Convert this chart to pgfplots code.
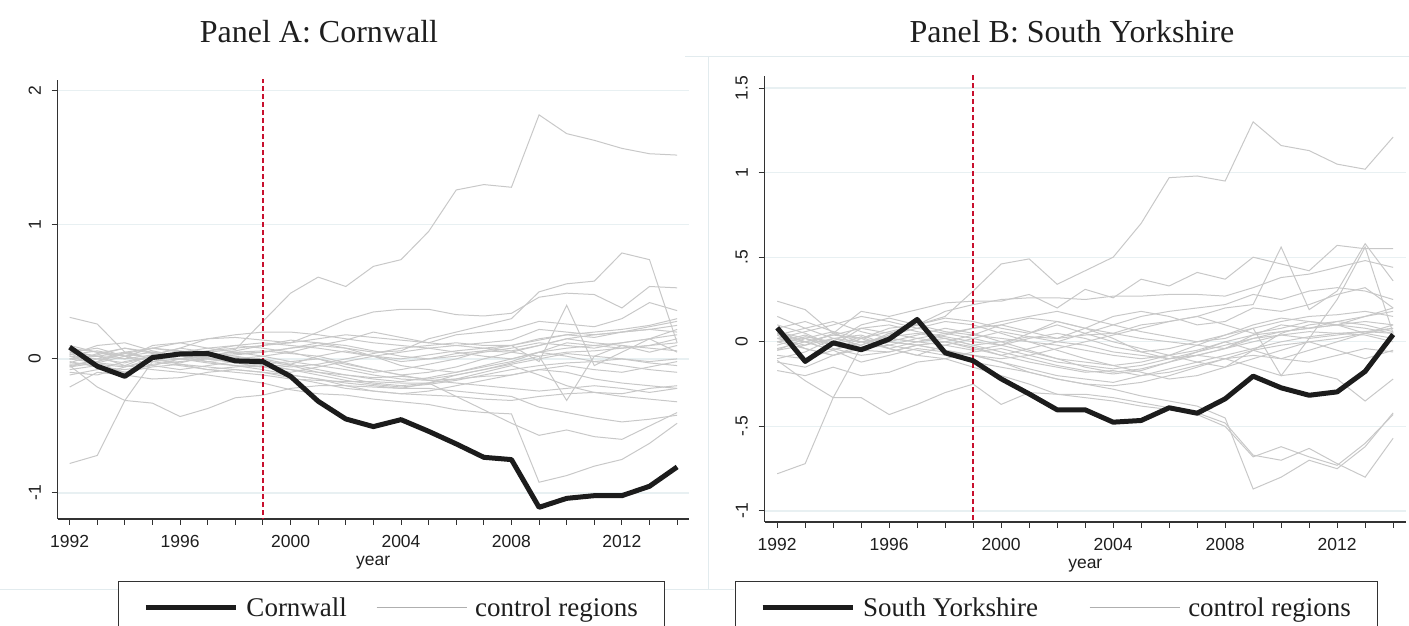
\documentclass[border=0pt]{standalone}
\usepackage{fontspec}
\setmainfont{Liberation Serif}
\newfontfamily\sansf{Liberation Sans}
\usepackage{pgfplots}
\usepackage{pgfplotstable}
\pgfplotsset{compat=1.18}
\definecolor{ctrl}{RGB}{200,200,200}
\definecolor{blk}{RGB}{28,28,28}
\definecolor{redc}{RGB}{200,16,46}
\definecolor{gridc}{RGB}{232,240,242}
\definecolor{framec}{RGB}{226,235,238}
\definecolor{axc}{RGB}{50,50,50}
\definecolor{txtc}{RGB}{30,30,30}
\definecolor{legg}{RGB}{175,175,175}
\newcommand\tickfont{\sansf\fontsize{17.5}{20}\selectfont}
\newcommand\titlefont{\fontsize{32}{38}\selectfont}
\newcommand\legfont{\fontsize{27}{32}\selectfont}

\pgfplotstableread[header=has colnames]{
name 1992 1993 1994 1995 1996 1997 1998 1999 2000 2001 2002 2003 2004 2005 2006 2007 2008 2009 2010 2011 2012 2013 2014
A1 0.05 0.02 -0.05 0.03 0.08 0.05 0.07 0.28 0.49 0.61 0.54 0.69 0.74 0.95 1.26 1.30 1.28 1.82 1.68 1.63 1.57 1.53 1.52
A2 -0.05 -0.02 0.04 0.00 -0.03 0.02 0.06 0.10 0.14 0.12 0.08 0.05 0.06 0.15 0.20 0.25 0.30 0.50 0.56 0.58 0.79 0.74 0.12
A3 0.03 0.06 0.02 0.08 0.12 0.15 0.16 0.14 0.12 0.20 0.29 0.35 0.37 0.37 0.33 0.32 0.34 0.46 0.49 0.48 0.38 0.54 0.53
A4 -0.06 -0.03 0.02 0.05 0.02 0.00 0.03 0.05 0.08 0.10 0.14 0.20 0.16 0.12 0.18 0.20 0.22 0.28 0.26 0.24 0.30 0.42 0.36
A5 0.02 -0.04 -0.06 -0.02 0.03 0.01 -0.02 -0.04 -0.06 -0.04 0.00 0.04 0.08 0.10 0.12 0.10 0.10 -0.02 0.40 -0.05 0.05 0.15 0.22
A6 -0.03 0.04 0.08 0.04 0.00 -0.03 -0.05 -0.06 -0.04 0.02 0.06 0.02 -0.02 0.00 0.04 0.06 0.05 0.02 -0.31 0.02 0.10 0.05 0.10
A7 0.00 -0.03 -0.05 -0.08 -0.10 -0.12 -0.15 -0.18 -0.23 -0.26 -0.27 -0.30 -0.32 -0.34 -0.38 -0.40 -0.41 -0.92 -0.87 -0.80 -0.75 -0.63 -0.48
A8 -0.78 -0.72 -0.31 -0.02 -0.05 -0.08 -0.10 -0.12 -0.15 -0.16 -0.17 -0.17 -0.18 -0.18 -0.28 -0.38 -0.48 -0.57 -0.53 -0.58 -0.60 -0.50 -0.40
A9 -0.05 -0.21 -0.31 -0.33 -0.43 -0.37 -0.29 -0.27 -0.22 -0.20 -0.20 -0.21 -0.22 -0.22 -0.24 -0.26 -0.28 -0.36 -0.40 -0.44 -0.47 -0.45 -0.42
A10 0.31 0.26 0.05 0.00 0.05 0.08 0.10 0.08 0.05 0.00 -0.06 -0.10 -0.08 -0.04 0.00 0.06 0.10 0.14 0.18 0.16 0.20 0.24 0.28
A11 -0.21 -0.10 -0.12 -0.15 -0.14 -0.10 -0.08 -0.10 -0.12 -0.15 -0.20 -0.24 -0.26 -0.27 -0.28 -0.30 -0.31 -0.28 -0.26 -0.25 -0.26 -0.22 -0.20
C1 0.02 0.00 -0.03 0.02 0.04 0.03 0.01 0.00 -0.04 -0.08 -0.12 -0.15 -0.17 -0.14 -0.10 -0.05 0.00 0.05 0.08 0.10 0.12 0.15 0.18
C2 -0.04 -0.02 0.05 0.08 0.06 0.04 0.02 -0.01 -0.05 -0.10 -0.14 -0.18 -0.20 -0.18 -0.12 -0.08 -0.03 0.02 0.05 0.06 0.08 0.10 0.12
C3 0.05 0.08 0.02 -0.02 0.00 0.03 0.05 0.06 0.04 0.02 -0.03 -0.08 -0.12 -0.10 -0.06 0.00 0.05 0.10 0.15 0.18 0.20 0.22 0.25
C4 -0.08 -0.05 -0.10 -0.04 -0.02 0.00 -0.02 -0.04 -0.08 -0.12 -0.16 -0.19 -0.21 -0.19 -0.16 -0.12 -0.08 -0.05 -0.03 -0.02 0.00 -0.03 -0.05
C5 0.00 0.03 0.08 0.05 0.02 0.06 0.10 0.12 0.10 0.08 0.05 0.02 0.00 0.03 0.06 0.08 0.10 0.15 0.18 0.20 0.22 0.25 0.30
C6 0.08 0.05 0.00 0.10 0.12 0.08 0.05 0.02 -0.02 -0.05 -0.08 -0.12 -0.15 -0.16 -0.15 -0.13 -0.12 -0.08 -0.10 -0.15 -0.18 -0.20 -0.22
C7 -0.02 -0.06 -0.08 -0.05 0.00 0.02 0.04 0.05 0.08 0.12 0.10 0.06 0.02 0.00 0.02 0.05 0.08 0.12 0.10 0.08 0.12 0.15 0.05
C8 0.10 0.05 0.02 -0.05 -0.08 -0.05 -0.02 -0.05 -0.08 -0.10 -0.12 -0.14 -0.13 -0.15 -0.12 -0.08 -0.04 0.00 0.04 0.02 0.00 -0.02 0.00
C9 -0.10 -0.12 -0.06 0.00 0.04 0.06 0.08 0.10 0.12 0.15 0.18 0.16 0.14 0.12 0.10 0.08 0.06 0.10 0.15 0.12 0.10 0.08 0.06
C10 0.03 0.10 0.12 0.06 0.02 -0.02 -0.05 -0.08 -0.12 -0.15 -0.18 -0.20 -0.22 -0.18 -0.15 -0.10 -0.05 -0.12 -0.20 -0.25 -0.28 -0.30 -0.32
C11 -0.06 0.00 0.04 0.08 0.05 0.00 -0.03 -0.06 -0.10 -0.06 -0.02 0.02 0.05 0.08 0.10 0.12 0.14 0.22 0.20 0.18 0.20 0.22 0.20
C12 0.04 -0.04 -0.10 -0.06 -0.04 -0.08 -0.06 -0.04 -0.02 0.00 -0.04 -0.08 -0.12 -0.16 -0.18 -0.20 -0.22 -0.24 -0.22 -0.20 -0.22 -0.25 -0.22
C13 0.00 0.02 0.00 0.03 0.08 0.15 0.18 0.20 0.20 0.18 0.15 0.12 0.10 0.08 0.05 0.02 0.00 0.05 0.12 0.10 0.08 0.10 0.15
C14 -0.12 -0.08 -0.02 0.02 0.00 -0.02 0.00 0.02 0.05 0.10 0.08 0.02 -0.05 -0.08 -0.10 -0.06 -0.02 0.05 0.02 -0.02 -0.05 -0.08 -0.10
C15 0.06 0.02 0.05 0.00 -0.04 -0.06 -0.08 -0.10 -0.14 -0.18 -0.22 -0.24 -0.26 -0.24 -0.20 -0.16 -0.12 -0.08 -0.05 -0.08 -0.10 -0.06 -0.02
Cornwall 0.087 -0.055 -0.13 0.01 0.037 0.04 -0.015 -0.02 -0.13 -0.316 -0.448 -0.505 -0.453 -0.54 -0.634 -0.734 -0.751 -1.107 -1.04 -1.02 -1.02 -0.95 -0.806
}\rawA

\pgfplotstableread[header=has colnames]{
name 1992 1993 1994 1995 1996 1997 1998 1999 2000 2001 2002 2003 2004 2005 2006 2007 2008 2009 2010 2011 2012 2013 2014
B1 0.05 0.00 -0.05 0.02 0.08 0.10 0.15 0.30 0.46 0.49 0.34 0.42 0.50 0.70 0.97 0.98 0.95 1.30 1.16 1.13 1.05 1.02 1.21
B2 0.24 0.19 0.05 0.18 0.15 0.19 0.23 0.24 0.24 0.28 0.20 0.31 0.26 0.37 0.33 0.41 0.37 0.50 0.46 0.42 0.57 0.55 0.55
B3 0.00 0.04 -0.02 0.03 -0.04 0.00 0.02 -0.02 0.00 0.03 0.02 0.04 0.05 0.10 0.12 0.15 0.20 0.22 0.56 0.19 0.30 0.58 0.36
B4 -0.05 -0.02 0.02 -0.02 0.05 0.10 0.18 0.22 0.25 0.26 0.26 0.25 0.27 0.27 0.28 0.28 0.27 0.32 0.38 0.40 0.44 0.48 0.44
B5 -0.78 -0.72 -0.33 -0.03 0.00 -0.02 -0.05 -0.08 -0.12 -0.18 -0.22 -0.25 -0.28 -0.32 -0.35 -0.38 -0.45 -0.87 -0.80 -0.70 -0.75 -0.62 -0.42
B6 -0.11 -0.23 -0.33 -0.33 -0.43 -0.37 -0.30 -0.25 -0.37 -0.30 -0.31 -0.31 -0.33 -0.36 -0.39 -0.43 -0.50 -0.68 -0.62 -0.68 -0.73 -0.60 -0.43
B7 -0.17 -0.20 -0.15 -0.20 -0.18 -0.12 -0.10 -0.15 -0.20 -0.25 -0.31 -0.33 -0.35 -0.38 -0.40 -0.42 -0.48 -0.67 -0.70 -0.63 -0.72 -0.80 -0.57
B8 0.06 0.02 -0.04 -0.08 -0.06 -0.02 0.00 -0.04 -0.08 -0.04 0.00 -0.02 -0.06 -0.08 -0.10 -0.08 -0.10 -0.15 -0.20 -0.18 -0.22 -0.35 -0.22
B9 -0.04 0.00 0.04 0.08 0.05 0.02 0.00 0.04 0.10 0.06 0.02 0.08 0.15 0.18 0.15 0.10 0.12 0.20 0.18 0.22 0.28 0.32 0.20
B10 0.02 0.06 0.10 0.15 0.12 0.08 0.05 0.02 -0.02 0.05 0.12 0.08 0.02 -0.06 -0.10 -0.08 -0.04 0.04 0.10 0.08 0.12 0.10 0.06
D1 0.02 -0.02 0.05 0.00 0.03 0.05 0.02 -0.02 -0.06 -0.10 -0.14 -0.17 -0.19 -0.17 -0.12 -0.06 0.00 0.04 0.06 0.08 0.10 0.12 0.10
D2 -0.05 0.02 0.06 -0.04 0.00 0.04 0.08 0.05 0.00 -0.05 -0.10 -0.15 -0.18 -0.16 -0.12 -0.08 -0.04 0.02 0.06 0.08 0.10 0.08 0.05
D3 0.10 0.05 -0.02 0.08 0.10 0.06 0.03 0.00 -0.02 -0.06 -0.10 -0.12 -0.14 -0.12 -0.08 -0.02 0.04 0.08 0.12 0.15 0.16 0.18 0.15
D4 -0.08 -0.10 -0.05 -0.12 -0.08 -0.04 -0.06 -0.08 -0.12 -0.16 -0.20 -0.22 -0.24 -0.20 -0.16 -0.12 -0.08 -0.04 0.00 0.03 0.05 0.04 0.00
D5 0.04 0.08 0.12 0.06 0.02 0.00 0.04 0.08 0.12 0.15 0.18 0.14 0.10 0.06 0.03 0.00 0.04 0.10 0.14 0.12 0.10 0.15 0.20
D6 0.00 -0.04 -0.08 -0.04 0.00 -0.02 -0.05 -0.08 -0.10 -0.08 -0.04 0.00 0.04 0.08 0.12 0.15 0.10 0.05 0.08 0.12 0.10 0.05 0.08
D7 0.15 0.08 0.02 0.04 -0.02 -0.05 -0.08 -0.12 -0.15 -0.18 -0.22 -0.25 -0.26 -0.24 -0.20 -0.15 -0.10 -0.05 -0.02 0.00 0.02 0.05 0.02
D8 -0.02 0.03 0.00 0.10 0.14 0.10 0.06 0.04 0.02 0.00 -0.02 -0.05 -0.08 -0.10 -0.08 -0.05 0.00 -0.05 -0.10 -0.05 0.00 0.05 0.10
D9 0.06 0.00 0.04 0.02 0.06 0.10 0.14 0.12 0.08 0.05 0.10 0.05 0.00 -0.04 -0.08 -0.12 -0.15 -0.10 -0.05 0.00 -0.05 -0.10 -0.05
D10 -0.10 -0.06 0.02 0.00 -0.04 -0.08 -0.02 0.02 0.06 0.03 0.00 0.05 0.10 0.15 0.18 0.20 0.22 0.28 0.25 0.30 0.32 0.30 0.25
D11 0.00 0.02 -0.02 -0.05 -0.06 -0.02 0.00 -0.03 -0.08 -0.12 -0.15 -0.18 -0.17 -0.20 -0.18 -0.14 -0.10 -0.08 -0.10 -0.12 -0.08 -0.04 -0.06
D12 0.04 -0.04 -0.08 -0.02 0.04 0.08 0.12 0.10 0.05 0.00 -0.05 -0.10 -0.14 -0.18 -0.22 -0.20 -0.15 -0.05 0.05 0.10 0.12 0.15 0.18
D13 0.02 0.00 -0.05 0.00 0.02 0.00 -0.02 -0.05 -0.02 0.02 0.05 0.02 -0.03 -0.06 -0.04 0.00 0.02 0.08 -0.20 0.02 0.25 0.56 0.05
D14 -0.12 -0.15 -0.08 -0.04 -0.02 0.02 0.05 0.08 0.10 0.14 0.12 0.08 0.05 0.02 0.00 -0.02 -0.04 0.00 0.04 0.06 0.05 0.06 0.08
D15 0.08 0.12 0.06 0.02 -0.04 -0.08 -0.10 -0.06 -0.04 -0.08 -0.12 -0.14 -0.16 -0.14 -0.10 -0.06 -0.02 0.02 0.04 0.02 0.04 0.06 0.05
SY 0.083 -0.116 -0.006 -0.047 0.016 0.132 -0.065 -0.112 -0.219 -0.308 -0.402 -0.402 -0.475 -0.465 -0.39 -0.422 -0.337 -0.203 -0.272 -0.316 -0.296 -0.175 0.043
}\rawB

\pgfplotstabletranspose[colnames from=name]{\tabA}{\rawA}
\pgfplotstabletranspose[colnames from=name]{\tabB}{\rawB}

\pgfplotstableread{
yr v
1999 -2
1999 3
}\vlinetab

\pgfplotsset{
  panel/.style={
    scale only axis,
    axis x line*=bottom, axis y line*=left,
    axis line style={draw=axc, line width=1.2pt, -},
    tick align=outside, major tick length=6pt,
    tick style={draw=axc, line width=1pt},
    xtick={1992,1993,...,2014},
    xticklabels={1992,,,,1996,,,,2000,,,,2004,,,,2008,,,,2012,,},
    ymajorgrids, grid style={draw=gridc, line width=1.3pt},
    tick label style={font=\tickfont, text=txtc},
    xticklabel style={yshift=-7pt},
    yticklabel style={rotate=90, anchor=south, inner ysep=10.5pt},
    xlabel={year}, label style={font=\tickfont, text=txtc},
    title style={font=\titlefont, text=txtc, anchor=base, yshift=-6pt},
    legend columns=2, legend cell align=left,
    legend image code/.code={\draw[##1] (0pt,0pt) -- (90pt,0pt);},
  }
}

\begin{document}
\begin{tikzpicture}
\useasboundingbox (0,0) rectangle (1409pt,626pt);
% faint frame lines
\draw[framec, line width=1pt] (685pt,569pt) -- (1409pt,569pt);
\draw[framec, line width=1pt] (708.5pt,569pt) -- (708.5pt,36pt);
\draw[framec, line width=1pt] (0pt,36pt) -- (734pt,36pt);

\begin{axis}[panel,
  at={(57.5pt,107pt)}, anchor=south west,
  width=631.5pt, height=439pt,
  xmin=1991.56, xmax=2014.43, ymin=-1.194, ymax=2.08,
  ytick={-1,0,1,2}, yticklabels={-1,0,1,2},
  xlabel style={at={(axis description cs:0.5,-0.0934)}, anchor=center, yshift=-3pt},
  title={Panel A: Cornwall},
  title style={at={(axis description cs:0.4141,1.0843)}},
  legend style={at={(axis description cs:0.0958,-0.1412)}, anchor=north west,
    draw=axc, line width=1pt, font=\legfont, text=txtc,
    inner xsep=25pt, inner ysep=14pt,
    /tikz/every odd column/.append style={column sep=6pt},
    /tikz/every even column/.append style={column sep=27pt}},
  ]
\pgfplotsinvokeforeach{A1,A2,A3,A4,A5,A6,A7,A8,A9,A10,A11,C1,C2,C3,C4,C5,C6,C7,C8,C9,C10,C11,C12,C13,C14,C15}{
  \addplot[draw=ctrl, line width=1pt, forget plot] table[x=colnames, y=#1] {\tabA};
}
\addplot[draw={rgb,255:red,200;green,16;blue,46}, line width=1.3pt, dash pattern=on 5pt off 3pt, forget plot] table[x=yr, y=v] {\vlinetab};
\addplot[draw=blk, line width=5pt, line join=round, forget plot] table[x=colnames, y=Cornwall] {\tabA};
\addlegendimage{draw=blk, line width=5pt}
\addlegendentry{Cornwall}
\addlegendimage{draw=legg, line width=1.2pt}
\addlegendentry{control regions}
\end{axis}

\begin{axis}[panel,
  at={(764.6pt,104pt)}, anchor=south west,
  width=641.4pt, height=446pt,
  xmin=1991.55, xmax=2014.46, ymin=-1.065, ymax=1.571,
  ytick={-1,-0.5,0,0.5,1,1.5}, yticklabels={-1,-.5,0,.5,1,1.5},
  xlabel style={at={(axis description cs:0.5,-0.0919)}, anchor=center, yshift=-3pt},
  title={Panel B: South Yorkshire},
  title style={at={(axis description cs:0.4793,1.074)}},
  legend style={at={(axis description cs:-0.0469,-0.1323)}, anchor=north west,
    draw=axc, line width=1pt, font=\legfont, text=txtc,
    inner xsep=25pt, inner ysep=14pt,
    /tikz/every odd column/.append style={column sep=6pt},
    /tikz/every even column/.append style={column sep=49pt}},
  ]
\pgfplotsinvokeforeach{B1,B2,B3,B4,B5,B6,B7,B8,B9,B10,D1,D2,D3,D4,D5,D6,D7,D8,D9,D10,D11,D12,D13,D14,D15}{
  \addplot[draw=ctrl, line width=1pt, forget plot] table[x=colnames, y=#1] {\tabB};
}
\addplot[draw={rgb,255:red,200;green,16;blue,46}, line width=1.5pt, dash pattern=on 5pt off 3pt, forget plot] table[x=yr, y=v] {\vlinetab};
\addplot[draw=blk, line width=5pt, line join=round, forget plot] table[x=colnames, y=SY] {\tabB};
\addlegendimage{draw=blk, line width=5pt}
\addlegendentry{South Yorkshire}
\addlegendimage{draw=legg, line width=1.2pt}
\addlegendentry{control regions}
\end{axis}
\end{tikzpicture}
\end{document}
